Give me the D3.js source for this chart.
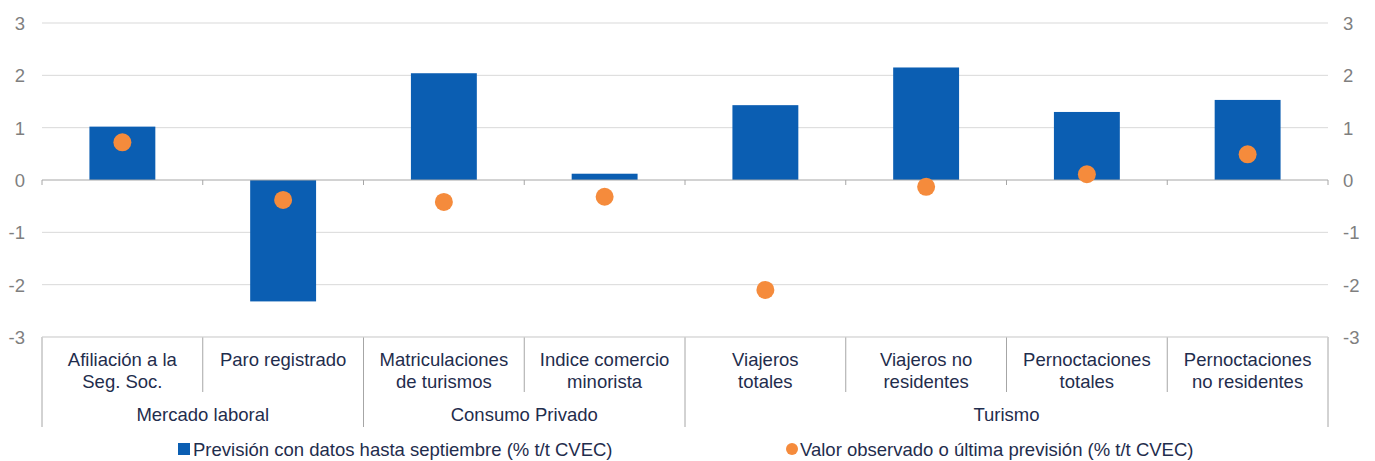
<!doctype html>
<html>
<head>
<meta charset="UTF-8">
<title>Previsión vs observado</title>
<script src="https://d3js.org/d3.v7.min.js"></script>
<style>
  body { margin: 0; background: #fff; }
  text { font-family: "Liberation Sans", Arial, sans-serif; }
</style>
</head>
<body>
<script>
var categories = [
  ["Afiliación a la", "Seg. Soc."],
  ["Paro registrado"],
  ["Matriculaciones", "de turismos"],
  ["Indice comercio", "minorista"],
  ["Viajeros", "totales"],
  ["Viajeros no", "residentes"],
  ["Pernoctaciones", "totales"],
  ["Pernoctaciones", "no residentes"]
];
var groups = [
  { name: "Mercado laboral", start: 0, end: 2 },
  { name: "Consumo Privado", start: 2, end: 4 },
  { name: "Turismo", start: 4, end: 8 }
];
var prevision = [1.02, -2.32, 2.04, 0.12, 1.43, 2.15, 1.30, 1.53];
var observado = [0.72, -0.38, -0.42, -0.32, -2.10, -0.13, 0.11, 0.49];
var yTicks = [-3, -2, -1, 0, 1, 2, 3];
var seriesNames = ["Previsión con datos hasta septiembre (% t/t CVEC)",
                   "Valor observado o última previsión (% t/t CVEC)"];

var W = 1375, H = 461;
var pLeft = 42, pRight = 1328, pTop = 23, pBottom = 337;
var fs = 18.5;
var blue = "#0b5eb2", orange = "#f58b3c", navy = "#1f2d4d";

var svg = d3.select("body").append("svg").attr("width", W).attr("height", H);

var x = d3.scaleBand().domain(d3.range(categories.length)).range([pLeft, pRight]).paddingInner(0);
var y = d3.scaleLinear().domain([-3, 3]).range([pBottom, pTop]);
var bw = x.bandwidth();
var barW = bw * 0.41;

// gridlines
svg.selectAll("line.grid").data(yTicks.filter(function(d){ return d !== 0; }))
  .enter().append("line")
  .attr("x1", pLeft).attr("x2", pRight)
  .attr("y1", function(d){ return y(d); }).attr("y2", function(d){ return y(d); })
  .attr("stroke", "#d9d9d9").attr("stroke-width", 1);

// y labels left & right
svg.selectAll("text.yl").data(yTicks).enter().append("text")
  .attr("x", 25).attr("y", function(d){ return y(d) + 7; })
  .attr("text-anchor", "end").attr("font-size", fs).attr("fill", "#7f7f7f")
  .text(function(d){ return d; });
svg.selectAll("text.yr").data(yTicks).enter().append("text")
  .attr("x", 1343).attr("y", function(d){ return y(d) + 7; })
  .attr("text-anchor", "start").attr("font-size", fs).attr("fill", "#7f7f7f")
  .text(function(d){ return d; });

// bars
svg.selectAll("rect.bar").data(prevision).enter().append("rect")
  .attr("x", function(d, i){ return x(i) + (bw - barW) / 2; })
  .attr("width", barW)
  .attr("y", function(d){ return y(Math.max(0, d)); })
  .attr("height", function(d){ return Math.abs(y(d) - y(0)); })
  .attr("fill", blue);

// zero axis + ticks
svg.append("line").attr("x1", pLeft).attr("x2", pRight)
  .attr("y1", y(0)).attr("y2", y(0)).attr("stroke", "#a6a6a6");
svg.selectAll("line.zt").data(d3.range(categories.length + 1)).enter().append("line")
  .attr("x1", function(i){ return pLeft + i * bw; }).attr("x2", function(i){ return pLeft + i * bw; })
  .attr("y1", y(0)).attr("y2", y(0) + 5).attr("stroke", "#a6a6a6");

// dots
svg.selectAll("circle.dot").data(observado).enter().append("circle")
  .attr("cx", function(d, i){ return x(i) + bw / 2; })
  .attr("cy", function(d){ return y(d); })
  .attr("r", 9).attr("fill", orange);

// category axis separators
var sepInner = d3.range(categories.length + 1).filter(function(i){
  return !groups.some(function(g){ return g.start === i || g.end === i; });
});
var sepGroup = [0].concat(groups.map(function(g){ return g.end; }));
svg.selectAll("line.si").data(sepInner).enter().append("line")
  .attr("x1", function(i){ return pLeft + i * bw; }).attr("x2", function(i){ return pLeft + i * bw; })
  .attr("y1", pBottom).attr("y2", 392).attr("stroke", "#a6a6a6");
svg.selectAll("line.sg").data(sepGroup).enter().append("line")
  .attr("x1", function(i){ return pLeft + i * bw; }).attr("x2", function(i){ return pLeft + i * bw; })
  .attr("y1", pBottom).attr("y2", 427).attr("stroke", "#a6a6a6");
svg.append("line").attr("x1", pLeft).attr("x2", pRight)
  .attr("y1", pBottom).attr("y2", pBottom).attr("stroke", "#d9d9d9");

// category labels
categories.forEach(function(lines, i){
  var t = svg.append("text").attr("text-anchor", "middle").attr("font-size", fs).attr("fill", navy);
  lines.forEach(function(s, k){
    t.append("tspan").attr("x", x(i) + bw / 2).attr("y", 366 + k * 21.5).text(s);
  });
});
svg.selectAll("text.grp").data(groups).enter().append("text")
  .attr("x", function(g){ return pLeft + (g.start + g.end) / 2 * bw; })
  .attr("y", 421).attr("text-anchor", "middle").attr("font-size", fs).attr("fill", navy)
  .text(function(g){ return g.name; });

// legend
svg.append("rect").attr("x", 178).attr("y", 443).attr("width", 12).attr("height", 12).attr("fill", blue);
svg.append("text").attr("x", 193).attr("y", 456).attr("font-size", fs).attr("fill", navy).text(seriesNames[0]);
svg.append("circle").attr("cx", 792).attr("cy", 449).attr("r", 6).attr("fill", orange);
svg.append("text").attr("x", 800).attr("y", 456).attr("font-size", fs).attr("fill", navy).text(seriesNames[1]);
</script>
</body>
</html>
